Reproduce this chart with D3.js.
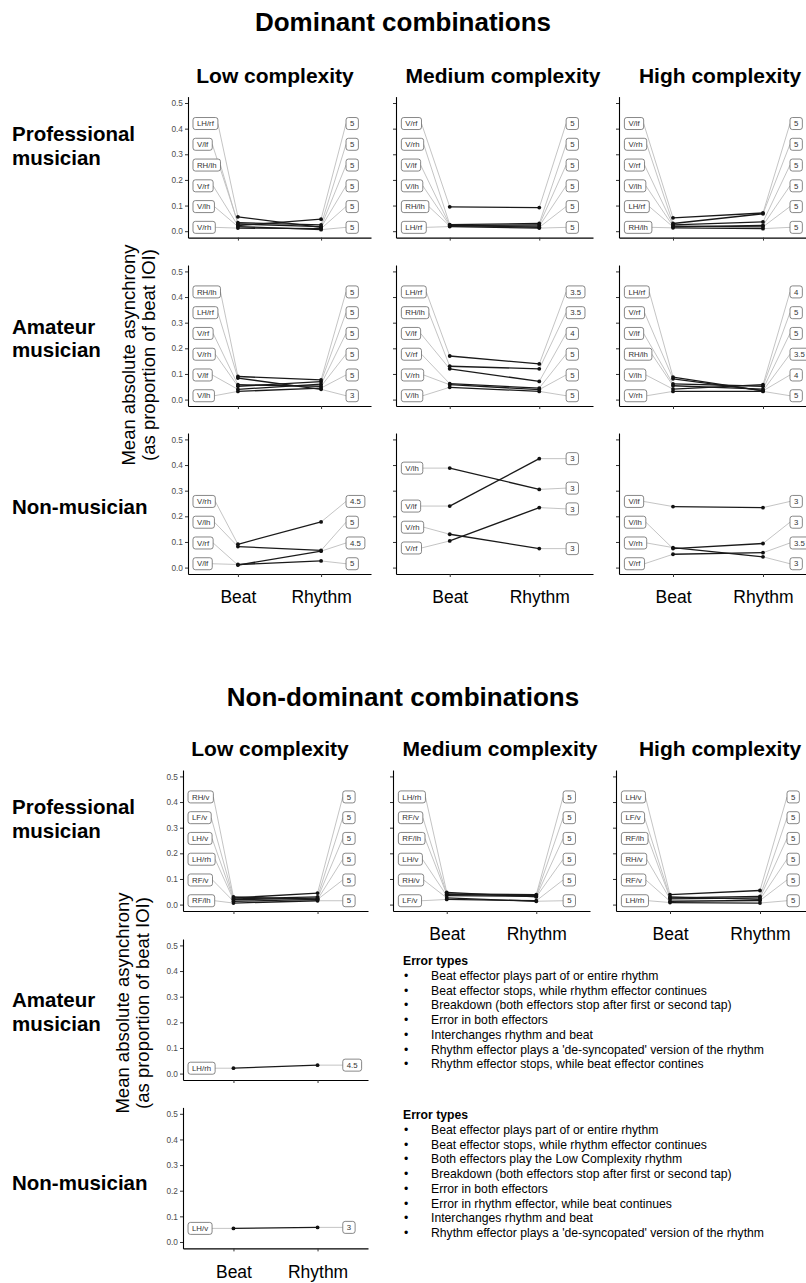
<!DOCTYPE html>
<html><head><meta charset="utf-8">
<script src="https://cdn.jsdelivr.net/npm/d3@7"></script>
<style>body{margin:0;background:#fff}svg{display:block}</style>
</head><body><svg id="c" width="806" height="1283"></svg>
<script>
// ---------------- DATA ----------------
const sectionTitles = ["Dominant combinations", "Non-dominant combinations"];
const complexities = ["Low complexity", "Medium complexity", "High complexity"];
const groupLabels = [["Professional", "musician"], ["Amateur", "musician"], ["Non-musician"]];
const conditions = ["Beat", "Rhythm"];
const yTicks = [0, 0.1, 0.2, 0.3, 0.4, 0.5];
const yTitle = ["Mean absolute asynchrony", "(as proportion of  beat IOI)"];

// Dominant – Professional (labels listed bottom -> top)
const domProLowLabels = ["V/rh", "V/lh", "V/rf", "RH/lh", "V/lf", "LH/rf"];
const domProLowBeat   = [0.012, 0.018, 0.022, 0.028, 0.033, 0.056];
const domProLowRhythm = [0.010, 0.006, 0.047, 0.018, 0.025, 0.015];
const domProLowRight  = ["5", "5", "5", "5", "5", "5"];

const domProMedLabels = ["LH/rf", "RH/lh", "V/lh", "V/lf", "V/rh", "V/rf"];
const domProMedBeat   = [0.018, 0.020, 0.022, 0.024, 0.026, 0.095];
const domProMedRhythm = [0.012, 0.020, 0.025, 0.015, 0.030, 0.092];
const domProMedRight  = ["5", "5", "5", "5", "5", "5"];

const domProHighLabels = ["RH/lh", "LH/rf", "V/lh", "V/rf", "V/rh", "V/lf"];
const domProHighBeat   = [0.013, 0.017, 0.020, 0.025, 0.030, 0.052];
const domProHighRhythm = [0.010, 0.023, 0.017, 0.036, 0.068, 0.071];
const domProHighRight  = ["5", "5", "5", "5", "5", "5"];

// Dominant – Amateur
const domAmaLowLabels = ["V/lh", "V/lf", "V/rh", "V/rf", "LH/rf", "RH/lh"];
const domAmaLowBeat   = [0.032, 0.040, 0.052, 0.058, 0.084, 0.090];
const domAmaLowRhythm = [0.045, 0.060, 0.070, 0.052, 0.040, 0.077];
const domAmaLowRight  = ["5", "5", "5", "5", "3", "5"];

const domAmaMedLabels = ["V/lh", "V/rh", "V/rf", "V/lf", "RH/lh", "LH/rf"];
const domAmaMedBeat   = [0.048, 0.058, 0.062, 0.120, 0.130, 0.170];
const domAmaMedRhythm = [0.032, 0.039, 0.045, 0.071, 0.120, 0.139];
const domAmaMedRight  = ["5", "5", "5", "4", "3.5", "3.5"];

const domAmaHighLabels = ["V/rh", "V/lh", "RH/lh", "V/lf", "V/rf", "LH/rf"];
const domAmaHighBeat   = [0.032, 0.041, 0.054, 0.061, 0.081, 0.088];
const domAmaHighRhythm = [0.032, 0.058, 0.041, 0.052, 0.035, 0.034];
const domAmaHighRight  = ["5", "4", "5", "5", "3.5", "4"];

// Dominant – Non-musician
const domNonLowLabels = ["V/lf", "V/rf", "V/lh", "V/rh"];
const domNonLowBeat   = [0.012, 0.010, 0.082, 0.091];
const domNonLowRhythm = [0.026, 0.064, 0.067, 0.178];
const domNonLowRight  = ["5", "4.5", "5", "4.5"];

const domNonMedLabels = ["V/rf", "V/rh", "V/lf", "V/lh"];
const domNonMedBeat   = [0.104, 0.130, 0.240, 0.388];
const domNonMedRhythm = [0.234, 0.074, 0.425, 0.305];
const domNonMedRight  = ["3", "3", "3", "3"];

const domNonHighLabels = ["V/rf", "V/rh", "V/lh", "V/lf"];
const domNonHighBeat   = [0.052, 0.078, 0.074, 0.238];
const domNonHighRhythm = [0.058, 0.042, 0.094, 0.234];
const domNonHighRight  = ["3.5", "3", "3", "3"];

// Non-dominant – Professional
const ndProLowLabels = ["RF/lh", "RF/v", "LH/rh", "LH/v", "LF/v", "RH/v"];
const ndProLowBeat   = [0.006, 0.013, 0.019, 0.022, 0.026, 0.030];
const ndProLowRhythm = [0.015, 0.020, 0.025, 0.030, 0.045, 0.020];
const ndProLowRight  = ["5", "5", "5", "5", "5", "5"];

const ndProMedLabels = ["LF/v", "RH/v", "LH/v", "RF/lh", "RF/v", "LH/rh"];
const ndProMedBeat   = [0.020, 0.026, 0.035, 0.040, 0.042, 0.048];
const ndProMedRhythm = [0.015, 0.013, 0.032, 0.035, 0.039, 0.030];
const ndProMedRight  = ["5", "5", "5", "5", "5", "5"];

const ndProHighLabels = ["LH/rh", "RF/v", "RH/v", "RF/lh", "LF/v", "LH/v"];
const ndProHighBeat   = [0.008, 0.013, 0.022, 0.026, 0.030, 0.039];
const ndProHighRhythm = [0.006, 0.016, 0.026, 0.032, 0.020, 0.055];
const ndProHighRight  = ["5", "5", "5", "5", "5", "5"];

// Non-dominant – Amateur / Non-musician (low complexity only)
const ndAmaLowLabels = ["LH/rh"];
const ndAmaLowBeat   = [0.021];
const ndAmaLowRhythm = [0.033];
const ndAmaLowRight  = ["4.5"];

const ndNonLowLabels = ["LH/v"];
const ndNonLowBeat   = [0.053];
const ndNonLowRhythm = [0.057];
const ndNonLowRight  = ["3"];

const errorTypesAmateur = [
  "Beat effector plays part of or entire rhythm",
  "Beat effector stops, while rhythm effector continues",
  "Breakdown (both effectors stop after first or second tap)",
  "Error in both effectors",
  "Interchanges rhythm and beat",
  "Rhythm effector plays a 'de-syncopated' version of the rhythm",
  "Rhythm effector stops, while beat effector contines"
];
const errorTypesNonMusician = [
  "Beat effector plays part of or entire rhythm",
  "Beat effector stops, while rhythm effector continues",
  "Both effectors play the Low Complexity rhythm",
  "Breakdown (both effectors stop after first or second tap)",
  "Error in both effectors",
  "Error in rhythm effector, while beat continues",
  "Interchanges rhythm and beat",
  "Rhythm effector plays a 'de-syncopated' version of the rhythm"
];

// ---------------- LAYOUT ----------------
const FONT = '"Liberation Sans", Arial, Helvetica, sans-serif';
const svg = d3.select("#c").style("font-family", FONT);
const PH = 141;
const layout = [
  {titleY: 22, colTitleY: 75, colTitleX: [275, 503, 720], rowTops: [96.6, 265, 433],
   cols: [[188, 371], [396, 593], [619, 817]], yTitleY: 355, yTitleX: [128, 148],
   rowLabelY: [[134, 158], [327, 350], [507]]},
  {titleY: 697, colTitleY: 748, colTitleX: [270, 500, 720], rowTops: [770, 939, 1107.4],
   cols: [[183, 368], [393, 590], [616, 814]], yTitleY: 1003, yTitleX: [122, 142],
   rowLabelY: [[807, 831], [1000, 1024], [1183]]}
];

const panels = [
  {sec:0,row:0,col:0,labels:domProLowLabels,beat:domProLowBeat,rhythm:domProLowRhythm,right:domProLowRight},
  {sec:0,row:0,col:1,labels:domProMedLabels,beat:domProMedBeat,rhythm:domProMedRhythm,right:domProMedRight},
  {sec:0,row:0,col:2,labels:domProHighLabels,beat:domProHighBeat,rhythm:domProHighRhythm,right:domProHighRight},
  {sec:0,row:1,col:0,labels:domAmaLowLabels,beat:domAmaLowBeat,rhythm:domAmaLowRhythm,right:domAmaLowRight},
  {sec:0,row:1,col:1,labels:domAmaMedLabels,beat:domAmaMedBeat,rhythm:domAmaMedRhythm,right:domAmaMedRight},
  {sec:0,row:1,col:2,labels:domAmaHighLabels,beat:domAmaHighBeat,rhythm:domAmaHighRhythm,right:domAmaHighRight},
  {sec:0,row:2,col:0,labels:domNonLowLabels,beat:domNonLowBeat,rhythm:domNonLowRhythm,right:domNonLowRight,xlab:true},
  {sec:0,row:2,col:1,labels:domNonMedLabels,beat:domNonMedBeat,rhythm:domNonMedRhythm,right:domNonMedRight,xlab:true},
  {sec:0,row:2,col:2,labels:domNonHighLabels,beat:domNonHighBeat,rhythm:domNonHighRhythm,right:domNonHighRight,xlab:true},
  {sec:1,row:0,col:0,labels:ndProLowLabels,beat:ndProLowBeat,rhythm:ndProLowRhythm,right:ndProLowRight},
  {sec:1,row:0,col:1,labels:ndProMedLabels,beat:ndProMedBeat,rhythm:ndProMedRhythm,right:ndProMedRight,xlab:true},
  {sec:1,row:0,col:2,labels:ndProHighLabels,beat:ndProHighBeat,rhythm:ndProHighRhythm,right:ndProHighRight,xlab:true},
  {sec:1,row:1,col:0,labels:ndAmaLowLabels,beat:ndAmaLowBeat,rhythm:ndAmaLowRhythm,right:ndAmaLowRight},
  {sec:1,row:2,col:0,labels:ndNonLowLabels,beat:ndNonLowBeat,rhythm:ndNonLowRhythm,right:ndNonLowRight,xlab:true}
];

// 1-D label repulsion: keeps order, pushes overlapping labels apart symmetrically
function repel(vals, gap = 0.081, lo = 0.015, hi = 0.5) {
  const cl = [];
  vals.forEach(v => {
    cl.push({n: 1, sum: v, pos: Math.max(lo, Math.min(hi, v))});
    while (cl.length > 1) {
      const b = cl[cl.length - 1], a = cl[cl.length - 2];
      if (a.pos + a.n * gap <= b.pos + 1e-9) break;
      const n = a.n + b.n, sum = a.sum + b.sum - a.n * b.n * gap;
      cl.splice(-2, 2, {n, sum, pos: Math.max(lo, Math.min(hi - (n - 1) * gap, sum / n))});
    }
  });
  const out = [];
  cl.forEach(c => { for (let k = 0; k < c.n; k++) out.push(c.pos + k * gap); });
  return out;
}

// ---------------- TITLES ----------------
layout.forEach((L, s) => {
  svg.append("text").attr("x", 403).attr("y", L.titleY).attr("dy", "0.36em")
    .attr("text-anchor", "middle").style("font-size", "26px").style("font-weight", "bold")
    .text(sectionTitles[s]);
  complexities.forEach((c, i) => {
    svg.append("text").attr("x", L.colTitleX[i]).attr("y", L.colTitleY).attr("dy", "0.36em")
      .attr("text-anchor", "middle").style("font-size", "21px").style("font-weight", "bold").text(c);
  });
  groupLabels.forEach((lines, r) => {
    lines.forEach((t, k) => {
      svg.append("text").attr("x", 12).attr("y", L.rowLabelY[r][k]).attr("dy", "0.36em")
        .style("font-size", "20.5px").style("font-weight", "bold").text(t);
    });
  });
  yTitle.forEach((t, k) => {
    svg.append("text").attr("transform", `translate(${L.yTitleX[k]},${L.yTitleY}) rotate(-90)`)
      .attr("dy", "0.36em").attr("text-anchor", "middle").style("font-size", "18.5px").text(t);
  });
});

// ---------------- PANELS ----------------
panels.forEach(p => {
  const L = layout[p.sec];
  const top = L.rowTops[p.row], bottom = top + PH;
  const [x0, x1] = L.cols[p.col];
  const y = d3.scaleLinear().domain([-0.025, 0.525]).range([bottom, top]);
  const x = d3.scalePoint().domain(conditions).range([x0, x1]).padding(0.6);
  const step = x.step();
  const g = svg.append("g");

  const ya = g.append("g").attr("transform", `translate(${x0},0)`)
    .call(d3.axisLeft(y).tickValues(yTicks).tickSize(3).tickSizeOuter(0).tickPadding(2)
      .tickFormat(p.col === 0 ? d3.format(".1f") : () => ""));
  ya.select(".domain").attr("stroke", "#000").attr("stroke-width", 1.1);
  ya.selectAll(".tick line").attr("stroke", "#333");
  ya.selectAll(".tick text").attr("fill", "#4d4d4d").style("font-size", "8.3px").style("font-family", FONT);

  const xa = g.append("g").attr("transform", `translate(0,${bottom})`)
    .call(d3.axisBottom(x).tickSize(3).tickSizeOuter(0).tickPadding(14)
      .tickFormat(p.xlab ? d => d : () => ""));
  xa.select(".domain").attr("stroke", "#000").attr("stroke-width", 1.1);
  xa.selectAll(".tick line").attr("stroke", "#333");
  xa.selectAll(".tick text").attr("fill", "#000").style("font-size", "17.5px").style("font-family", FONT);

  const n = p.labels.length, idx = d3.range(n);
  const leftPos = repel(idx.map(i => p.beat[i]));
  const rOrder = idx.slice().sort((a, b) => (p.rhythm[a] - p.rhythm[b]) || (a - b));
  const rSorted = repel(rOrder.map(i => p.rhythm[i]));
  const rightPos = [];
  rOrder.forEach((i, k) => rightPos[i] = rSorted[k]);

  const xb = x("Beat"), xr = x("Rhythm");
  const leftX = xb - 0.54 * step, rightX = xr + 0.3 * step;
  const PAD = 4, BH = 12, FS = 7.8;

  // measure label widths
  const meas = g.append("text").style("font-size", FS + "px").style("font-family", FONT);
  const widthOf = t => { meas.text(t); return meas.node().getComputedTextLength() + 2 * PAD; };
  const lw = p.labels.map(widthOf), rw = p.right.map(widthOf);
  meas.remove();

  // grey repel segments
  idx.forEach(i => {
    g.append("line").attr("x1", leftX + lw[i]).attr("y1", y(leftPos[i]))
      .attr("x2", xb).attr("y2", y(p.beat[i])).attr("stroke", "#bdbdbd").attr("stroke-width", 0.9);
    g.append("line").attr("x1", rightX).attr("y1", y(rightPos[i]))
      .attr("x2", xr).attr("y2", y(p.rhythm[i])).attr("stroke", "#bdbdbd").attr("stroke-width", 0.9);
  });
  // black connecting lines
  idx.forEach(i => {
    g.append("line").attr("x1", xb).attr("y1", y(p.beat[i])).attr("x2", xr).attr("y2", y(p.rhythm[i]))
      .attr("stroke", "#1a1a1a").attr("stroke-width", 1.3);
  });
  // points
  idx.forEach(i => {
    g.append("circle").attr("cx", xb).attr("cy", y(p.beat[i])).attr("r", 1.9).attr("fill", "#111");
    g.append("circle").attr("cx", xr).attr("cy", y(p.rhythm[i])).attr("r", 1.9).attr("fill", "#111");
  });
  // labels
  function label(x, yv, w, t) {
    const yy = y(yv);
    g.append("rect").attr("x", x).attr("y", yy - BH / 2).attr("width", w).attr("height", BH)
      .attr("rx", 2.4).attr("fill", "#fff").attr("stroke", "#555").attr("stroke-width", 0.7);
    g.append("text").attr("x", x + PAD).attr("y", yy).attr("dy", "0.35em")
      .style("font-size", FS + "px").attr("fill", "#333").text(t);
  }
  idx.forEach(i => {
    label(leftX, leftPos[i], lw[i], p.labels[i]);
    label(rightX, rightPos[i], rw[i], p.right[i]);
  });
});

// ---------------- ERROR-TYPE NOTES ----------------
function notes(items, titleY) {
  svg.append("text").attr("x", 403).attr("y", titleY).attr("dy", "0.36em")
    .style("font-size", "12.2px").style("font-weight", "bold").text("Error types");
  items.forEach((t, k) => {
    const yy = titleY + 14.7 * (k + 1);
    svg.append("text").attr("x", 404).attr("y", yy).attr("dy", "0.36em").style("font-size", "12.2px").text("•");
    svg.append("text").attr("x", 431).attr("y", yy).attr("dy", "0.36em").style("font-size", "12.2px").text(t);
  });
}
notes(errorTypesAmateur, 961);
notes(errorTypesNonMusician, 1115);
</script>
</body></html>
